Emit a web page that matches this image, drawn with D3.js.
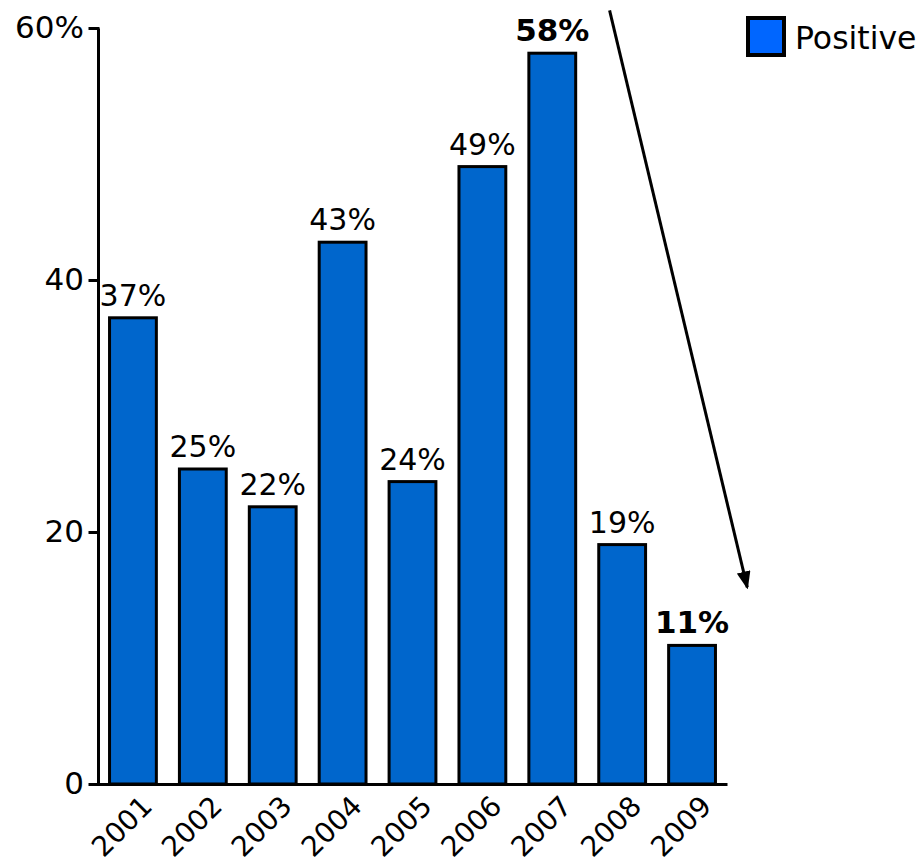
<!DOCTYPE html>
<html lang="en">
    <head>
        <meta charset="utf-8">
        <title>Positive</title>
        <script src="https://d3js.org/d3.v7.min.js"></script>
        <style>
            body {
                margin: 0;
                background: white;
            }
            text {
                font-family: "DejaVu Sans", Verdana, sans-serif;
                font-size: 30px;
                fill: black;
            }
            .bar {
                fill: #0066cc;
                stroke: black;
                stroke-width: 3;
            }
            .axis path,
            .axis line {
                fill: none;
                stroke: black;
                stroke-width: 3;
            }
            .axis text {
                font-family: "DejaVu Sans", Verdana, sans-serif;
                font-size: 31px;
            }
            .bold {
                font-weight: bold;
                font-size: 31px;
            }
            .year {
                font-size: 28px;
            }
            .legend-text {
                font-size: 31.5px;
            }
        </style>
    </head>
    <body>
        <div id="chart"></div>
        <script type="text/javascript">
            // data
            var years = ["2001","2002","2003","2004","2005","2006","2007","2008","2009"];
            var positive = [37, 25, 22, 43, 24, 49, 58, 19, 11];
            var boldYears = ["2007","2009"];
            var yTicks = [0, 20, 40, 60];
            var seriesName = "Positive";
            // arrow annotation: [year, offset in steps, value]
            var arrowFrom = ["2007", 0.82, 61.4];
            var arrowTo = ["2009", 0.79, 15.6];

            // settings for window
            var w = 921;
            var h = 864;

            var svg = d3.select("#chart").append("svg").attr("width",w).attr("height",h);

            var xScale = d3.scaleBand().domain(years).range([98,727]).paddingInner(0.33).paddingOuter(0.165);
            var yScale = d3.scaleLinear().domain([0,60]).range([784,28]);

            var dataset = years.map(function(y,i) { return {year: y, value: positive[i]}; });

            // bars
            svg.selectAll("rect.bar").data(dataset).enter()
            .append("rect").attr("class","bar")
            .attr("x",function(d) { return xScale(d.year); })
            .attr("y",function(d) { return yScale(d.value); })
            .attr("width",xScale.bandwidth())
            .attr("height",function(d) { return yScale(0) - yScale(d.value); });

            // value labels
            svg.selectAll("text.value").data(dataset).enter()
            .append("text")
            .attr("class",function(d) { return boldYears.indexOf(d.year) >= 0 ? "value bold" : "value"; })
            .attr("x",function(d) { return xScale(d.year) + xScale.bandwidth()/2; })
            .attr("y",function(d) { return yScale(d.value) - 12; })
            .attr("text-anchor","middle")
            .text(function(d) { return d.value + "%"; });

            // y axis
            var yAxis = d3.axisLeft(yScale).tickValues(yTicks).tickSize(8).tickSizeOuter(0).tickPadding(6)
            .tickFormat(function(d) { return d === 60 ? d + "%" : d; });
            svg.append("g").attr("class","axis").attr("transform","translate(98,0)").call(yAxis)
            .selectAll("line").attr("stroke-linecap","square");

            // x axis
            var xAxis = d3.axisBottom(xScale).tickSize(0).tickSizeOuter(0).tickFormat("");
            svg.append("g").attr("class","axis").attr("transform","translate(0,784)").call(xAxis);

            // rotated year labels
            svg.selectAll("text.year").data(years).enter()
            .append("text").attr("class","year")
            .attr("text-anchor","end")
            .attr("transform",function(d) {
                return "translate(" + (xScale(d) + xScale.bandwidth()/2 + 21) + "," + (yScale(0) + 24) + ") rotate(-45)";
            })
            .text(function(d) { return d; });

            // arrow
            var defs = svg.append("defs");
            defs.append("marker").attr("id","head").attr("markerUnits","userSpaceOnUse")
            .attr("viewBox","0 0 18 14").attr("refX",16).attr("refY",7)
            .attr("markerWidth",18).attr("markerHeight",14).attr("orient","auto")
            .append("path").attr("d","M0,0 L18,7 L0,14 Z").attr("fill","black");

            function arrowX(a) { return xScale(a[0]) + xScale.bandwidth()/2 + a[1]*xScale.step(); }
            svg.append("line")
            .attr("x1",arrowX(arrowFrom)).attr("y1",yScale(arrowFrom[2]))
            .attr("x2",arrowX(arrowTo)).attr("y2",yScale(arrowTo[2]))
            .attr("stroke","black").attr("stroke-width",3)
            .attr("marker-end","url(#head)");

            // legend
            var legend = svg.append("g").attr("transform","translate(748,18)");
            legend.append("rect").attr("width",36).attr("height",37)
            .attr("fill","#0066ff").attr("stroke","black").attr("stroke-width",4);
            legend.append("text").attr("class","legend-text").attr("x",47).attr("y",31).text(seriesName);
        </script>
    </body>
</html>
